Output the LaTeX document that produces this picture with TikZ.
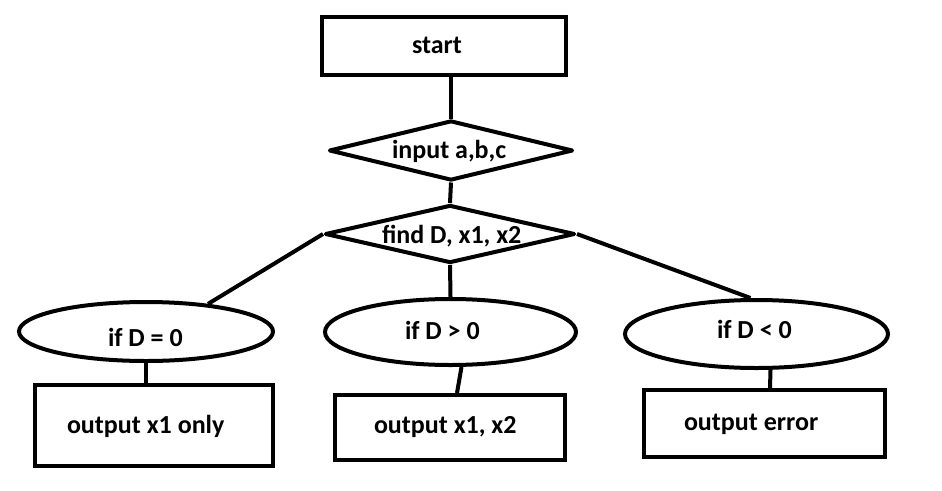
\documentclass[tikz,border=0pt]{standalone}
\usepackage{fontspec}
\setmainfont{Carlito}
\usetikzlibrary{shapes.geometric}

\begin{document}
\begin{tikzpicture}[x=1pt,y=-1pt,line width=4pt,
	box/.style={draw,rectangle,inner sep=0pt},
	decision/.style={draw,diamond,inner sep=0pt,line join=round},
	test/.style={draw,ellipse,inner sep=0pt},
	lbl/.style={font=\fontsize{26}{30}\selectfont\bfseries,inner sep=0pt,anchor=base west}]
			\useasboundingbox (0,0) rectangle (942,490);
			% shapes
			\node[box,minimum width=244pt,minimum height=58pt] (start) at (444,46) {};
			\node[decision,minimum width=244pt,minimum height=60pt] (input) at (451,150.5) {};
			\node[decision,minimum width=250pt,minimum height=58pt] (find) at (450,234) {};
			\node[test,minimum width=254pt,minimum height=59pt] (eqz) at (146,331.5) {};
			\node[test,minimum width=251pt,minimum height=66pt] (gtz) at (450.5,332) {};
			\node[test,minimum width=263pt,minimum height=68pt] (ltz) at (756.5,334) {};
			\node[box,minimum width=238pt,minimum height=81pt] (outone) at (154,425.5) {};
			\node[box,minimum width=230pt,minimum height=65pt] (outtwo) at (450,427.5) {};
			\node[box,minimum width=241pt,minimum height=67pt] (outerr) at (764.5,423.5) {};
			% texts
			\node[lbl] (startlbl) at (410,53) {start};
			\node[lbl] (inputlbl) at (390,158) {input a,b,c};
			\node[lbl] (findlbl) at (380,243) {find D, x1, x2};
			\node[lbl] (eqzlbl) at (106,346.5) {if D = 0};
			\node[lbl] (gtzlbl) at (403,339) {if D > 0};
			\node[lbl] (ltzlbl) at (715,338) {if D < 0};
			\node[lbl] (outonelbl) at (65,433) {output x1 only};
			\node[lbl] (outtwolbl) at (372,433) {output x1, x2};
			\node[lbl] (outerrlbl) at (682,430.5) {output error};
			% connectors
			\draw (start.south -| input.north) -- (input.north);
			\draw (input.south) -- (find.north);
			\draw (find.west) -- (eqz.24);
			\draw (find.south) -- (gtz.north);
			\draw (find.east) -- ([xshift=-6pt]ltz.north);
			\draw (eqz.south) -- (eqz.south |- outone.north);
			\draw ([xshift=11pt]gtz.south) -- ([xshift=7pt]outtwo.north);
			\draw ([xshift=14pt]ltz.south) -- ([xshift=5.5pt]outerr.north);
	\end{tikzpicture}
\end{document}
